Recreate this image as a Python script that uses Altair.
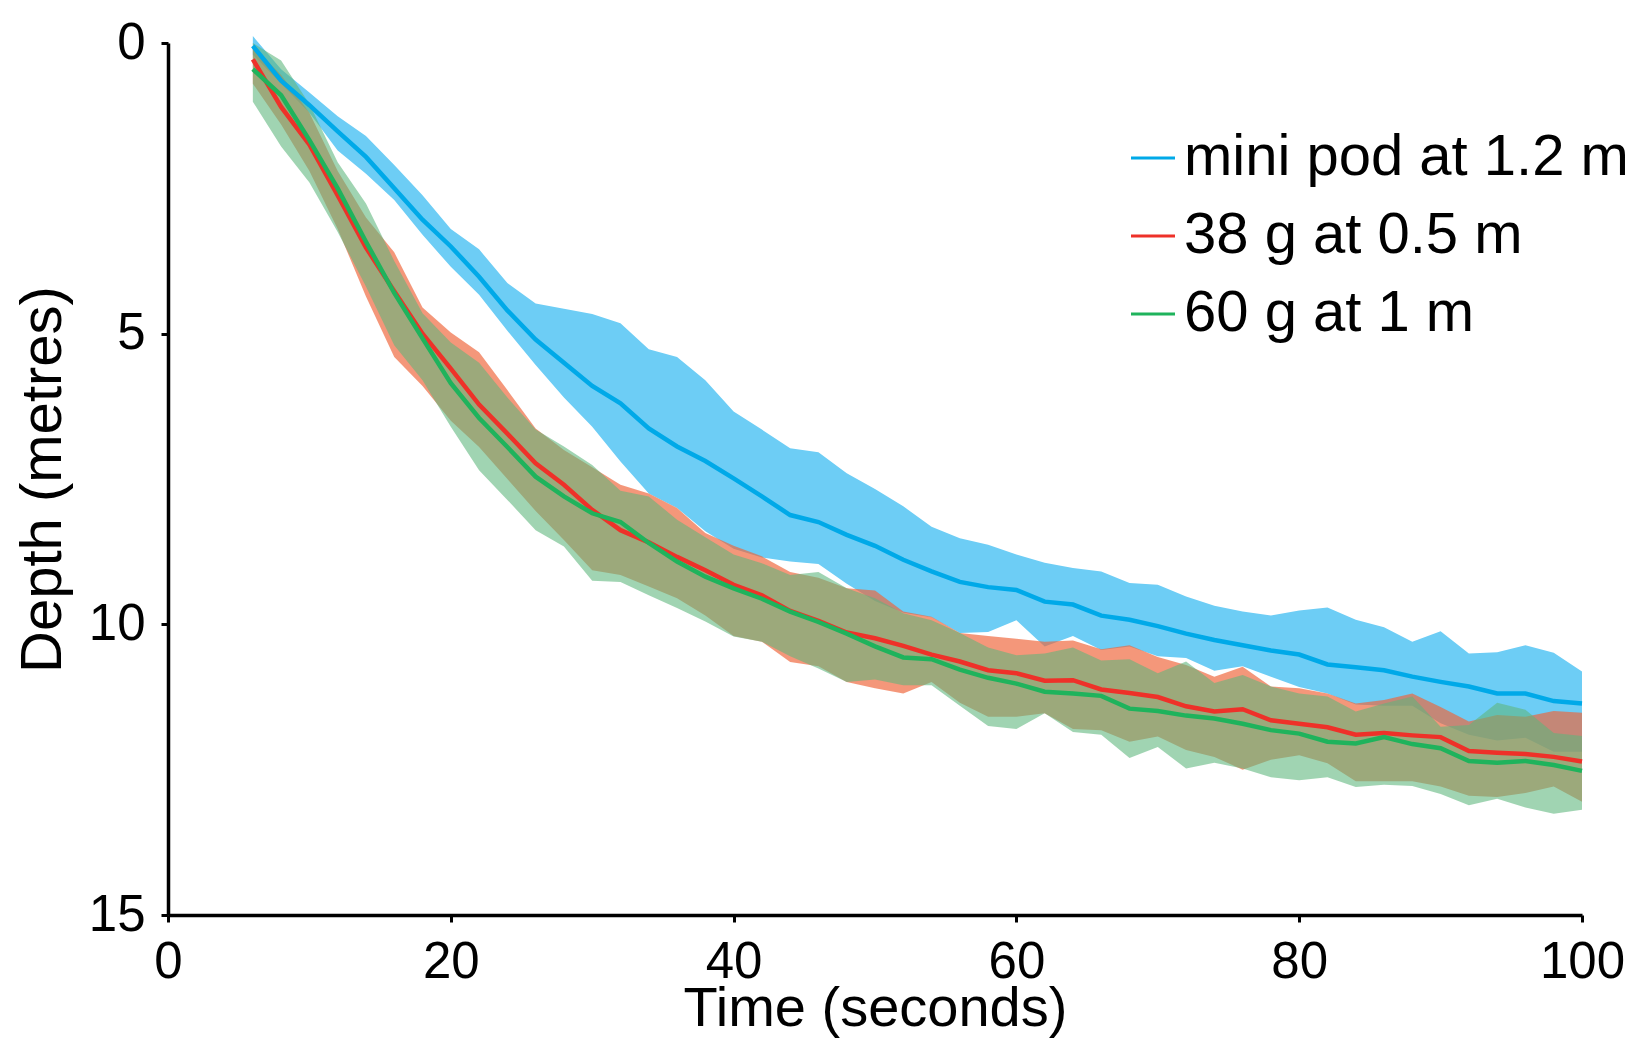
import altair as alt
import pandas as pd

# ---- data (depth in metres, time in seconds) ----
time = list(range(6, 101, 2))

series_names = ["mini pod at 1.2 m", "38 g at 0.5 m", "60 g at 1 m"]

blue_mean = [0.05, 0.65, 1.07, 1.52, 1.96, 2.5, 3.04, 3.5, 4.02, 4.6, 5.1, 5.5, 5.9, 6.2, 6.63, 6.94,
             7.19, 7.49, 7.8, 8.12, 8.24, 8.46, 8.65, 8.89, 9.09, 9.27, 9.36, 9.41, 9.61, 9.66, 9.85, 9.92,
             10.03, 10.16, 10.27, 10.36, 10.45, 10.52, 10.69, 10.74, 10.79, 10.9, 10.99, 11.07, 11.19, 11.19,
             11.32, 11.36]
blue_upper = [-0.12, 0.45, 0.85, 1.26, 1.6, 2.1, 2.62, 3.2, 3.55, 4.13, 4.48, 4.57, 4.66, 4.82, 5.27, 5.4,
              5.8, 6.34, 6.65, 6.97, 7.04, 7.4, 7.67, 7.97, 8.32, 8.52, 8.63, 8.8, 8.94, 9.03, 9.09, 9.29,
              9.32, 9.52, 9.68, 9.78, 9.85, 9.76, 9.71, 9.92, 10.05, 10.3, 10.12, 10.5, 10.48, 10.36, 10.49,
              10.81]
blue_lower = [0.2, 0.7, 1.2, 1.85, 2.25, 2.7, 3.3, 3.85, 4.33, 4.95, 5.54, 6.1, 6.6, 7.2, 7.75, 8.0,
              8.4, 8.7, 8.85, 8.92, 8.96, 9.3, 9.6, 9.8, 9.88, 10.15, 10.13, 9.93, 10.38, 10.2, 10.44, 10.38,
              10.55, 10.58, 10.8, 10.72, 10.9, 11.08, 11.19, 11.38, 11.4, 11.4, 11.7, 11.9, 12.0, 11.95,
              12.19, 12.19]

red_mean = [0.28, 1.1, 1.75, 2.62, 3.52, 4.27, 5.0, 5.6, 6.22, 6.72, 7.23, 7.6, 8.03, 8.38, 8.59, 8.84,
            9.07, 9.32, 9.5, 9.77, 9.94, 10.14, 10.24, 10.37, 10.52, 10.64, 10.79, 10.84, 10.97, 10.96, 11.12,
            11.18, 11.25, 11.41, 11.5, 11.46, 11.65, 11.71, 11.77, 11.9, 11.87, 11.91, 11.94, 12.18, 12.21,
            12.23, 12.28, 12.36]
red_upper = [0.05, 0.55, 1.2, 2.2, 3.0, 3.6, 4.55, 4.98, 5.32, 5.97, 6.63, 7.0, 7.3, 7.6, 7.75, 8.0,
             8.43, 8.65, 8.83, 9.1, 9.2, 9.38, 9.42, 9.78, 9.87, 10.15, 10.2, 10.25, 10.3, 10.28, 10.43, 10.36,
             10.56, 10.7, 10.9, 10.73, 11.07, 11.1, 11.19, 11.36, 11.3, 11.19, 11.42, 11.67, 11.56, 11.59,
             11.49, 11.52]
red_lower = [0.7, 1.4, 2.2, 3.2, 4.36, 5.4, 5.9, 6.5, 6.95, 7.5, 8.05, 8.55, 9.07, 9.15, 9.35, 9.55,
             9.85, 10.2, 10.3, 10.65, 10.72, 10.99, 11.1, 11.19, 10.99, 11.35, 11.59, 11.59, 11.53, 11.8, 11.82,
             12.02, 11.93, 12.16, 12.28, 12.5, 12.33, 12.25, 12.39, 12.7, 12.7, 12.7, 12.79, 12.95, 12.97,
             12.9, 12.79, 13.05]

green_mean = [0.45, 0.9, 1.67, 2.5, 3.42, 4.3, 5.08, 5.85, 6.45, 6.95, 7.46, 7.8, 8.09, 8.24, 8.6, 8.92,
              9.18, 9.38, 9.56, 9.78, 9.96, 10.16, 10.38, 10.57, 10.6, 10.78, 10.92, 11.02, 11.16, 11.19, 11.23,
              11.45, 11.49, 11.57, 11.62, 11.71, 11.82, 11.88, 12.02, 12.05, 11.94, 12.06, 12.13, 12.35, 12.38,
              12.35, 12.42, 12.52]
green_upper = [0.0, 0.3, 1.05, 2.05, 2.76, 3.75, 4.65, 5.15, 5.5, 6.1, 6.65, 6.94, 7.26, 7.7, 7.8, 8.2,
               8.5, 8.8, 8.95, 9.15, 9.1, 9.38, 9.55, 9.81, 9.93, 10.15, 10.4, 10.53, 10.5, 10.4, 10.62, 10.6,
               10.84, 10.64, 11.01, 10.87, 11.07, 11.19, 11.24, 11.5, 11.36, 11.24, 11.76, 11.73, 11.35, 11.47,
               11.87, 11.92]
green_lower = [1.01, 1.78, 2.4, 3.25, 4.19, 5.2, 5.8, 6.6, 7.35, 7.86, 8.38, 8.66, 9.25, 9.27, 9.5, 9.72,
               9.95, 10.21, 10.3, 10.55, 10.76, 10.99, 10.95, 11.05, 11.05, 11.4, 11.75, 11.8, 11.53, 11.85,
               11.9, 12.3, 12.11, 12.48, 12.38, 12.48, 12.63, 12.68, 12.63, 12.8, 12.76, 12.78, 12.92, 13.11,
               13.0, 13.15, 13.26, 13.19]

line_colors = ["#00a9e8", "#ee3129", "#1fb35c"]
band_colors = ["#6dcdf5", "#ef6439", "#5eb67c"]
band_opacity = [1.0, 0.67, 0.59]

rows = []
for name, m, lo, up in zip(series_names,
                           [blue_mean, red_mean, green_mean],
                           [blue_lower, red_lower, green_lower],
                           [blue_upper, red_upper, green_upper]):
    for t, a, b, c in zip(time, m, lo, up):
        rows.append({"series": name, "time": t, "mean": a, "lower": b, "upper": c})
df = pd.DataFrame(rows)

FONT = "Liberation Sans"

x_enc = alt.X("time:Q",
              scale=alt.Scale(domain=[0, 100], nice=False),
              axis=alt.Axis(values=[0, 20, 40, 60, 80, 100], title="Time (seconds)",
                            titleY=110, titleBaseline="alphabetic", titleFontSize=56,
                            labelPadding=15, labelFlush=False, labelOverlap=False))
y_scale = alt.Scale(domain=[0, 15], reverse=True, nice=False)
y_axis = alt.Axis(values=[0, 5, 10, 15], title="Depth (metres)",
                  titleX=-108, titleY=436, titleBaseline="alphabetic",
                  labelPadding=16, labelOverlap=False)

stroke_scale = alt.Scale(domain=series_names, range=line_colors)
legend = alt.Legend(title=None, orient="none", legendX=956, legendY=86,
                    symbolType="stroke", symbolSize=1936, symbolStrokeWidth=3,
                    labelFontSize=58, labelFont=FONT, labelColor="black",
                    rowPadding=20, labelOffset=2, padding=0, labelLimit=700)

base = alt.Chart(df)

layers = []
for name, col, op in zip(series_names, band_colors, band_opacity):
    layers.append(
        base.transform_filter(alt.datum.series == name)
        .mark_area(color=col, opacity=op)
        .encode(x=x_enc,
                y=alt.Y("lower:Q", scale=y_scale, axis=y_axis),
                y2="upper:Q")
    )
for name in series_names:
    layers.append(
        base.transform_filter(alt.datum.series == name)
        .mark_line(strokeWidth=4.5)
        .encode(x=x_enc,
                y=alt.Y("mean:Q", scale=y_scale, axis=y_axis),
                stroke=alt.Stroke("series:N", scale=stroke_scale, legend=legend))
    )

chart = (
    alt.layer(*layers)
    .properties(width=1414, height=872,
                padding={"left": 160, "top": 35, "right": 60, "bottom": 123},
                autosize=alt.AutoSizeParams(type="none"))
    .configure_view(stroke=None)
    .configure_axis(domainColor="black", domainWidth=3.5, tickColor="black", tickWidth=3,
                    tickSize=7, grid=False, labelFont=FONT, labelFontSize=51, labelColor="black",
                    titleFont=FONT, titleFontSize=58, titleFontWeight="normal", titleColor="black")
)

chart.save("out.html", embed_options={"renderer": "svg", "actions": False})
